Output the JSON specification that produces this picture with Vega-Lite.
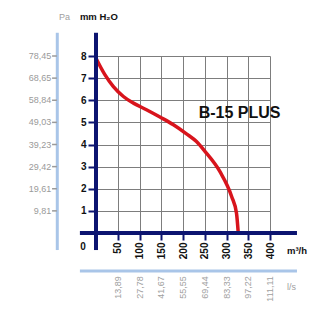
{
  "$schema": "https://vega.github.io/schema/vega-lite/v6.json",
  "autosize": {"type": "none"},
  "width": 174,
  "height": 177,
  "padding": {"left": 96, "top": 56, "right": 41, "bottom": 76},
  "config": {"view": {"stroke": null}, "font": "Liberation Sans"},
  "datasets": {
    "curve": [
      {"q": 0, "v": 7.9}, {"q": 20, "v": 7.17}, {"q": 40, "v": 6.62}, {"q": 63, "v": 6.17},
      {"q": 86, "v": 5.87}, {"q": 116, "v": 5.57}, {"q": 147, "v": 5.24}, {"q": 178, "v": 4.89},
      {"q": 208, "v": 4.48}, {"q": 231, "v": 4.13}, {"q": 250, "v": 3.7}, {"q": 285, "v": 2.77},
      {"q": 312, "v": 1.64}, {"q": 323, "v": 0.89}, {"q": 327, "v": 0}
    ],
    "pa": [
      {"v": 8, "label": "78,45"}, {"v": 7, "label": "68,65"}, {"v": 6, "label": "58,84"},
      {"v": 5, "label": "49,03"}, {"v": 4, "label": "39,23"}, {"v": 3, "label": "29,42"},
      {"v": 2, "label": "19,61"}, {"v": 1, "label": "9,81"}
    ],
    "ls": [
      {"q": 50, "label": "13,89"}, {"q": 100, "label": "27,78"}, {"q": 150, "label": "41,67"},
      {"q": 200, "label": "55,55"}, {"q": 250, "label": "69,44"}, {"q": 300, "label": "83,33"},
      {"q": 350, "label": "97,22"}, {"q": 400, "label": "111,11"}
    ],
    "one": [{}]
  },
  "layer": [
    {
      "data": {"name": "curve"},
      "mark": {"type": "line", "color": "#d8141c", "strokeWidth": 3.5, "interpolate": "monotone"},
      "encoding": {
        "x": {
          "field": "q", "type": "quantitative",
          "scale": {"domain": [0, 400], "nice": false, "zero": false},
          "axis": {
            "values": [50, 100, 150, 200, 250, 300, 350, 400], "tickCount": 50, "format": "d",
            "title": null, "domain": false, "labelOverlap": false, "labelFlush": false,
            "grid": true, "gridColor": "#7d7d7d", "gridWidth": 1, "gridOpacity": 1,
            "ticks": true, "tickColor": "#0c1470", "tickSize": 7, "tickWidth": 2,
            "labelAngle": 270, "labelFont": "Liberation Sans", "labelFontWeight": "bold",
            "labelFontSize": 10, "labelColor": "#111", "labelPadding": 2
          }
        },
        "y": {
          "field": "v", "type": "quantitative",
          "scale": {"domain": [0, 8], "nice": false, "zero": false},
          "axis": {
            "values": [1, 2, 3, 4, 5, 6, 7, 8], "tickCount": 50, "format": "d",
            "title": null, "domain": false, "labelOverlap": false, "labelFlush": false,
            "grid": true, "gridColor": "#7d7d7d", "gridWidth": 1, "gridOpacity": 1,
            "ticks": true, "tickColor": "#0c1470", "tickSize": 8, "tickWidth": 2,
            "labelFont": "Liberation Sans", "labelFontWeight": "bold",
            "labelFontSize": 10, "labelColor": "#111", "labelPadding": 2
          }
        }
      }
    },
    {
      "data": {"name": "one"},
      "mark": {"type": "rule", "color": "#0c1470", "strokeWidth": 4},
      "encoding": {"x": {"datum": 0}, "y": {"datum": -0.77}, "y2": {"datum": 9.05}}
    },
    {
      "data": {"name": "one"},
      "mark": {"type": "rule", "color": "#0c1470", "strokeWidth": 4},
      "encoding": {"x": {"datum": -37}, "x2": {"datum": 462}, "y": {"datum": 0}}
    },
    {
      "data": {"name": "one"},
      "mark": {"type": "rule", "color": "#a9c5e8", "strokeWidth": 3},
      "encoding": {"x": {"datum": -89}, "y": {"datum": -0.77}, "y2": {"datum": 9.05}}
    },
    {
      "data": {"name": "one"},
      "mark": {"type": "rule", "color": "#a9c5e8", "strokeWidth": 3},
      "encoding": {"x": {"datum": -37}, "x2": {"datum": 462}, "y": {"datum": -1.72}}
    },
    {
      "data": {"name": "pa"},
      "mark": {"type": "rule", "color": "#9a9a9a", "strokeWidth": 1.5},
      "encoding": {"x": {"datum": -101}, "x2": {"datum": -90}, "y": {"field": "v", "type": "quantitative"}}
    },
    {
      "data": {"name": "pa"},
      "mark": {"type": "text", "align": "right", "baseline": "middle", "fontSize": 9, "color": "#9a9a9a"},
      "encoding": {"x": {"datum": -103}, "y": {"field": "v", "type": "quantitative"}, "text": {"field": "label"}}
    },
    {
      "data": {"name": "ls"},
      "mark": {"type": "text", "angle": 270, "align": "right", "baseline": "middle", "fontSize": 9, "color": "#a0a0a0"},
      "encoding": {"x": {"field": "q", "type": "quantitative"}, "y": {"datum": -1.95}, "text": {"field": "label"}}
    },
    {
      "data": {"values": [{"q": -30, "v": -0.63, "t": "0"}]},
      "mark": {"type": "text", "align": "center", "baseline": "middle", "fontSize": 10, "fontWeight": "bold", "color": "#111"},
      "encoding": {"x": {"field": "q", "type": "quantitative"}, "y": {"field": "v", "type": "quantitative"}, "text": {"field": "t"}}
    },
    {
      "data": {"values": [
        {"q": 439, "v": -0.8, "t": "m³/h"},
        {"q": -37, "v": 9.77, "t": "mm H₂O"}
      ]},
      "mark": {"type": "text", "align": "left", "baseline": "middle", "fontSize": 9.5, "color": "#111", "fontWeight": "bold"},
      "encoding": {"x": {"field": "q", "type": "quantitative"}, "y": {"field": "v", "type": "quantitative"}, "text": {"field": "t"}}
    },
    {
      "data": {"values": [
        {"q": 439, "v": -2.44, "t": "l/s"},
        {"q": -85, "v": 9.77, "t": "Pa"}
      ]},
      "mark": {"type": "text", "align": "left", "baseline": "middle", "fontSize": 9, "color": "#a0a0a0"},
      "encoding": {"x": {"field": "q", "type": "quantitative"}, "y": {"field": "v", "type": "quantitative"}, "text": {"field": "t"}}
    },
    {
      "data": {"values": [{"q": 236, "v": 5.43, "t": "B-15 PLUS"}]},
      "mark": {"type": "text", "align": "left", "baseline": "middle", "fontSize": 16, "fontWeight": "bold", "color": "#111", "font": "Liberation Sans"},
      "encoding": {"x": {"field": "q", "type": "quantitative"}, "y": {"field": "v", "type": "quantitative"}, "text": {"field": "t"}}
    }
  ]
}
